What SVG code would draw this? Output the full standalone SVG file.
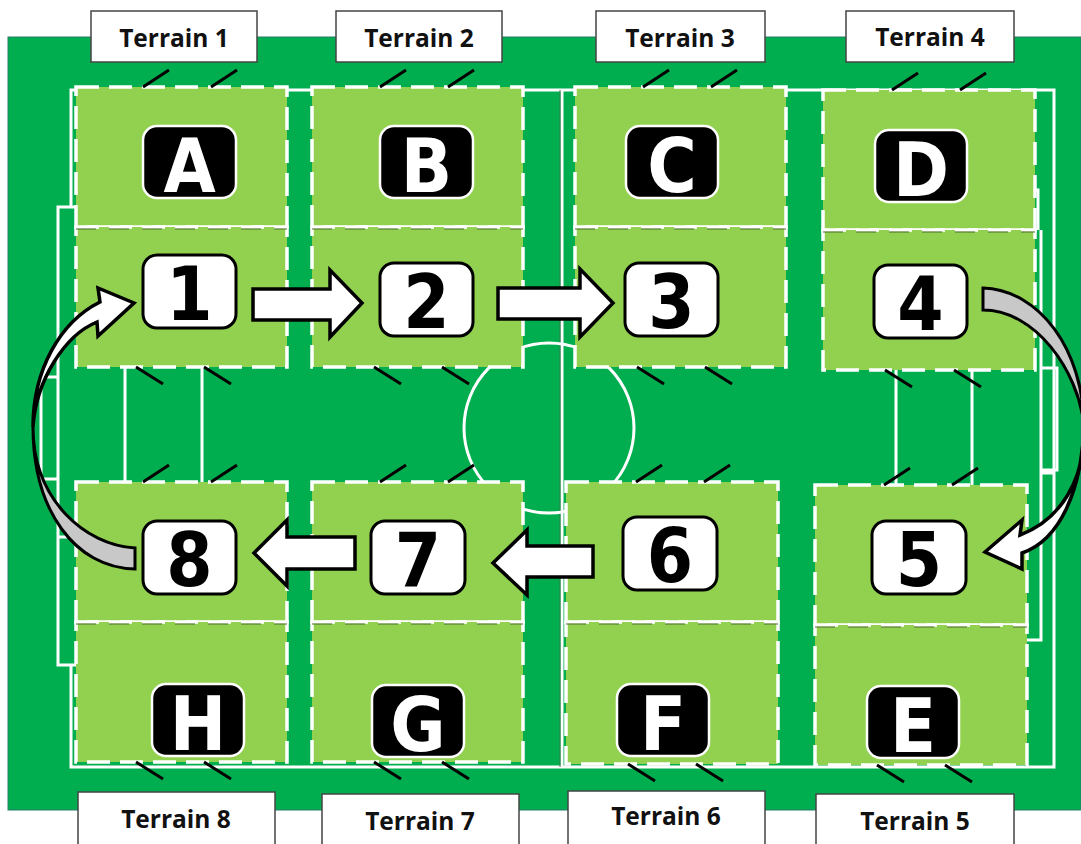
<svg xmlns="http://www.w3.org/2000/svg" width="1081" height="844" viewBox="0 0 1081 844">
<style>
.pl{fill:none;stroke:#fff;stroke-width:3}
.t{fill:#92d050}
.d{fill:none;stroke:#fff;stroke-width:3.5;stroke-dasharray:23 10}
.sp{fill:none;stroke:#4a6a2a;stroke-width:1;stroke-dasharray:20 13}
.tk{stroke:#000;stroke-width:3;fill:none}
.bw{fill:#fff;stroke:#000;stroke-width:3}
.bk{fill:#000;stroke:#fff;stroke-width:2.5}
.n{font:bold 74px "DejaVu Sans",sans-serif;font-stretch:condensed;text-anchor:middle;fill:#000}
.l{font:bold 75px "DejaVu Sans",sans-serif;font-stretch:condensed;text-anchor:middle;fill:#fff}
.lb{fill:#fff;stroke:#444;stroke-width:1.5}
.lt{font:bold 24.500px "Open Sans",sans-serif;text-anchor:middle;fill:#111}
.a{fill:#fff;stroke:#000;stroke-width:3.500;stroke-linejoin:miter}
.g{fill:#c8c8c8;stroke:#000;stroke-width:3}
</style>
<rect id="field" x="8" y="37" width="1073" height="773" fill="#00ae50" stroke="#2a7a6a" stroke-width="1"/>
<g id="pitch">
<path class="pl" d="M71,207V90H1054V767H71V665"/>
<path class="pl" d="M76,207H58V665H76M58,377H41V479H58M58,537H76"/>
<path class="pl" d="M562,90V767"/>
<path d="M560,90V767" stroke="#3a7a4a" stroke-width="1"/>
<circle class="pl" cx="549" cy="428" r="85"/>
<path class="pl" d="M125,367V482M202,367V482M896,370V485M972,370V485"/>
<path class="pl" d="M1035,190H1038V230M1041,230V640H1027M1041,368H1057V470H1041M1041,473H1053"/>
</g>
<g id="terrains">
<g id="zone-A"><rect class="t" x="76" y="87" width="211" height="140"/><rect class="d" x="76" y="87" width="211" height="140"/></g>
<g id="zone-1"><rect class="t" x="76" y="227" width="211" height="140"/><rect class="d" x="76" y="227" width="211" height="140"/></g>
<g id="zone-B"><rect class="t" x="312" y="87" width="211" height="140"/><rect class="d" x="312" y="87" width="211" height="140"/></g>
<g id="zone-2"><rect class="t" x="312" y="227" width="211" height="140"/><rect class="d" x="312" y="227" width="211" height="140"/></g>
<g id="zone-C"><rect class="t" x="575" y="87" width="211" height="140"/><rect class="d" x="575" y="87" width="211" height="140"/></g>
<g id="zone-3"><rect class="t" x="575" y="227" width="211" height="140"/><rect class="d" x="575" y="227" width="211" height="140"/></g>
<g id="zone-D"><rect class="t" x="823" y="90" width="212" height="140"/><rect class="d" x="823" y="90" width="212" height="140"/></g>
<g id="zone-4"><rect class="t" x="823" y="230" width="212" height="140"/><rect class="d" x="823" y="230" width="212" height="140"/></g>
<g id="zone-8"><rect class="t" x="76" y="482" width="211" height="140"/><rect class="d" x="76" y="482" width="211" height="140"/></g>
<g id="zone-H"><rect class="t" x="76" y="622" width="211" height="140"/><rect class="d" x="76" y="622" width="211" height="140"/></g>
<g id="zone-7"><rect class="t" x="312" y="482" width="211" height="140"/><rect class="d" x="312" y="482" width="211" height="140"/></g>
<g id="zone-G"><rect class="t" x="312" y="622" width="211" height="140"/><rect class="d" x="312" y="622" width="211" height="140"/></g>
<g id="zone-6"><rect class="t" x="566" y="482" width="212" height="140"/><rect class="d" x="566" y="482" width="212" height="140"/></g>
<g id="zone-F"><rect class="t" x="566" y="622" width="212" height="142"/><rect class="d" x="566" y="622" width="212" height="142"/></g>
<g id="zone-5"><rect class="t" x="815" y="485" width="212" height="140"/><rect class="d" x="815" y="485" width="212" height="140"/></g>
<g id="zone-E"><rect class="t" x="815" y="625" width="212" height="140"/><rect class="d" x="815" y="625" width="212" height="140"/></g>
<path class="sp" d="M76,229H287M312,229H523M575,229H786M823,232H1035M76,624H287M312,624H523M566,624H778M815,627H1027"/>
</g>
<g id="ticks" class="tk">
<path d="M143,87L169,70M211,87L237,70M380,87L406,70M448,87L474,70M643,87L669,70M711,87L737,70M892,90L918,73M960,90L986,73"/>
<path d="M136,367L163,384M204,367L231,384M374,367L401,384M442,367L469,384M637,367L664,384M705,367L732,384M885,370L912,387M954,370L981,387"/>
<path d="M143,482L169,465M211,482L237,465M380,482L406,465M448,482L474,465M636,482L662,465M704,482L730,465M884,485L910,468M952,485L978,468"/>
<path d="M136,762L163,779M204,762L231,779M374,762L401,779M442,762L469,779M628,764L655,781M696,764L723,781M877,765L904,782M945,765L972,782"/>
</g>
<g id="connectors">
<path id="arrow-1-2" class="a" d="M253,289H330V270L362,303L330,337V320H253Z"/>
<path id="arrow-2-3" class="a" d="M498,288H580V269L613,303L580,337V319H498Z"/>
<path id="arrow-6-7" class="a" d="M593,546H527V530L493,563L527,595V577H593Z"/>
<path id="arrow-7-8" class="a" d="M355,537H287V520L254,553L287,586V569H355Z"/>
<path id="arrow-8-1-tail" class="g" d="M33,427C33,510 75,568 135,569V548C85,545 33,500 33,427Z"/>
<path id="arrow-8-1" class="a" d="M33,427C33,370 60,322 100,302L98,288L134,303L98,336L97,322C65,335 36,380 33,427Z"/>
<path id="arrow-4-5-tail" class="g" d="M983,288C1040,290 1083,350 1084,425C1078,370 1035,310 983,310Z"/>
<path id="arrow-4-5" class="a" d="M1084,425C1086,480 1060,520 1020,535L1022,520L985,552L1022,569L1022,553C1060,540 1082,490 1084,425Z"/>
</g>
<g id="badges">
<g id="badge-A"><rect class="bk" x="143" y="126" width="93" height="72" rx="14"/><text class="l" x="189.500" y="192">A</text></g>
<g id="badge-B"><rect class="bk" x="380" y="126" width="93" height="72" rx="14"/><text class="l" x="426.500" y="192">B</text></g>
<g id="badge-C"><rect class="bk" x="626" y="126" width="92" height="72" rx="14"/><text class="l" x="672" y="192">C</text></g>
<g id="badge-D"><rect class="bk" x="875" y="130" width="92" height="72" rx="14"/><text class="l" x="921" y="196">D</text></g>
<g id="badge-E"><rect class="bk" x="867" y="686" width="92" height="72" rx="14"/><text class="l" x="913" y="752">E</text></g>
<g id="badge-F"><rect class="bk" x="617" y="684" width="92" height="72" rx="14"/><text class="l" x="663" y="750">F</text></g>
<g id="badge-G"><rect class="bk" x="372" y="685" width="92" height="72" rx="14"/><text class="l" x="418" y="751">G</text></g>
<g id="badge-H"><rect class="bk" x="152" y="684" width="92" height="72" rx="14"/><text class="l" x="198" y="750">H</text></g>
<g id="badge-1"><rect class="bw" x="143" y="255" width="93" height="73" rx="14"/><text class="n" x="189.500" y="320">1</text></g>
<g id="badge-2"><rect class="bw" x="380" y="263" width="93" height="73" rx="14"/><text class="n" x="426.500" y="328">2</text></g>
<g id="badge-3"><rect class="bw" x="625" y="263" width="93" height="73" rx="14"/><text class="n" x="671.500" y="328">3</text></g>
<g id="badge-4"><rect class="bw" x="874" y="265" width="93" height="73" rx="14"/><text class="n" x="920.500" y="330">4</text></g>
<g id="badge-5"><rect class="bw" x="872" y="521" width="94" height="73" rx="14"/><text class="n" x="919" y="586">5</text></g>
<g id="badge-6"><rect class="bw" x="623" y="517" width="94" height="73" rx="14"/><text class="n" x="670" y="582">6</text></g>
<g id="badge-7"><rect class="bw" x="371" y="521" width="94" height="73" rx="14"/><text class="n" x="418" y="586">7</text></g>
<g id="badge-8"><rect class="bw" x="143" y="521" width="93" height="73" rx="14"/><text class="n" x="189.500" y="586">8</text></g>
</g>
<g id="terrain-labels">
<g id="label-1"><rect class="lb" x="91" y="11" width="166" height="51"/><text class="lt" x="174" y="47">Terrain 1</text></g>
<g id="label-2"><rect class="lb" x="336" y="11" width="166" height="51"/><text class="lt" x="419" y="47">Terrain 2</text></g>
<g id="label-3"><rect class="lb" x="596" y="11" width="169" height="51"/><text class="lt" x="680" y="47">Terrain 3</text></g>
<g id="label-4"><rect class="lb" x="846" y="11" width="168" height="51"/><text class="lt" x="930" y="46">Terrain 4</text></g>
<g id="label-8"><rect class="lb" x="78" y="792" width="197" height="60"/><text class="lt" x="176" y="828">Terrain 8</text></g>
<g id="label-7"><rect class="lb" x="322" y="794" width="197" height="58"/><text class="lt" x="420" y="830">Terrain 7</text></g>
<g id="label-6"><rect class="lb" x="568" y="791" width="197" height="61"/><text class="lt" x="666" y="825">Terrain 6</text></g>
<g id="label-5"><rect class="lb" x="816" y="794" width="198" height="58"/><text class="lt" x="915" y="830">Terrain 5</text></g>
</g>
</svg>
